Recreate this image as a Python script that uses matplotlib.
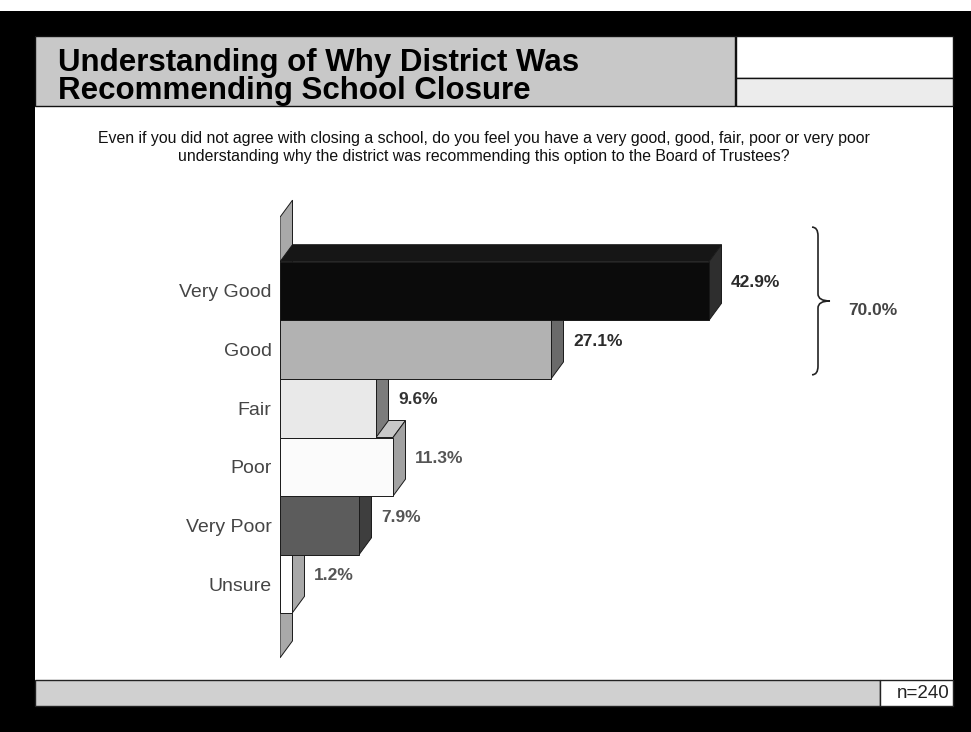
import numpy as np
import matplotlib.pyplot as plt
from matplotlib.patches import Rectangle, Polygon, PathPatch
from matplotlib.path import Path

plt.rcParams['font.family'] = ['Liberation Sans', 'DejaVu Sans']

categories = ['Very Good', 'Good', 'Fair', 'Poor', 'Very Poor', 'Unsure']
percents = [42.9, 27.1, 9.6, 11.3, 7.9, 1.2]
face_colors = ['#0b0b0b', '#b2b2b2', '#e9e9e9', '#fbfbfb', '#5c5c5c', '#ffffff']
side_colors = ['#2e2e2e', '#6a6a6a', '#7c7c7c', '#a2a2a2', '#3e3e3e', '#a8a8a8']
top_colors = ['#161616', '#8e8e8e', '#b0b0b0', '#c8c8c8', '#4a4a4a', '#cfcfcf']
label_colors = ['#2b2b2b', '#2b2b2b', '#333333', '#555555', '#555555', '#555555']

title_lines = ['Understanding of Why District Was', 'Recommending School Closure']
question_lines = ['Even if you did not agree with closing a school, do you feel you have a very good, good, fair, poor or very poor',
                  'understanding why the district was recommending this option to the Board of Trustees?']
sample_note = 'n=240'

W, H = 971, 732
fig = plt.figure(figsize=(W / 100, H / 100), dpi=100, facecolor='black')


def px_rect(x0, y0, x1, y1, **kw):
    # rectangle given in image pixels (y down)
    fig.patches.append(Rectangle((x0 / W, 1 - y1 / H), (x1 - x0) / W, (y1 - y0) / H,
                                 transform=fig.transFigure, zorder=0, **kw))


# slide frame
px_rect(0, 0, W, 11, facecolor='white', edgecolor='none')
px_rect(35, 36, 953, 706, facecolor='white', edgecolor='none')
px_rect(35, 36, 735, 106, facecolor='#c8c8c8', edgecolor='#111111', lw=1)
px_rect(736, 36, 953, 78, facecolor='white', edgecolor='#111111', lw=1)
px_rect(736, 78, 953, 106, facecolor='#ececec', edgecolor='#111111', lw=1)
px_rect(35, 680, 880, 706, facecolor='#d0d0d0', edgecolor='#222222', lw=1)
px_rect(880, 680, 953, 706, facecolor='white', edgecolor='#222222', lw=1)

fig.text(58 / W, 1 - 71 / H, title_lines[0], fontsize=22.5, fontweight='bold', va='baseline')
fig.text(58 / W, 1 - 99 / H, title_lines[1], fontsize=22.5, fontweight='bold', va='baseline')
fig.text(484 / W, 1 - 139 / H, question_lines[0], fontsize=11.4, ha='center', va='center', color='#111111')
fig.text(484 / W, 1 - 156 / H, question_lines[1], fontsize=11.4, ha='center', va='center', color='#111111')
fig.text(950 / W, 1 - 693 / H, sample_note, fontsize=13.5, ha='right', va='center', color='#222222')

# chart
ax = fig.add_axes([280 / W, 1 - 665 / H, (955 - 280) / W, (665 - 195) / H])
ax.set_zorder(2)
ax.set_xlim(0, 67.5)
ax.set_ylim(6.382, -1.638)
ax.patch.set_visible(False)
for s in ax.spines.values():
    s.set_visible(False)
ax.set_xticks([])
ax.set_yticks(range(len(categories)), categories, fontsize=14, color='#454545')
ax.tick_params(axis='y', length=0, pad=6)

DX, DY = 1.25, 0.29  # 3d depth in data units
edge = '#1a1a1a'

# back wall
wall_top, wall_bot = -1.26, 6.26
ax.add_patch(Polygon([(0, wall_top), (0, wall_bot), (DX, wall_bot - DY), (DX, wall_top - DY)],
                     closed=True, facecolor='#a9a9a9', edgecolor=edge, lw=0.7, zorder=1))

n = len(percents)
for i in reversed(range(n)):
    v = percents[i]
    top, bot = i - 0.5, i + 0.5
    z = 10 - i
    ax.add_patch(Polygon([(0, top), (v, top), (v + DX, top - DY), (DX, top - DY)], closed=True,
                         facecolor=top_colors[i], edgecolor=edge, lw=0.7, zorder=z))
    ax.add_patch(Polygon([(v, top), (v, bot), (v + DX, bot - DY), (v + DX, top - DY)], closed=True,
                         facecolor=side_colors[i], edgecolor=edge, lw=0.7, zorder=z))
    ax.barh(i, v, height=1.0, left=0, color=face_colors[i], edgecolor=edge, lw=0.7, zorder=z + 0.5)
    ax.annotate(f'{v:.1f}%', xy=(v, i), xytext=(16, 6), textcoords='offset points',
                ha='left', va='center', fontsize=12.5, fontweight='bold', color=label_colors[i])

# brace around the top two answers
b_top, b_bot = -1.09, 1.43
b_mid = (b_top + b_bot) / 2
x0, xm, x1 = 53.2, 53.8, 55.0
verts = [(x0, b_top), (xm, b_top), (xm, b_top + 0.15), (xm, b_mid - 0.12),
         (xm, b_mid), (x1, b_mid), (xm, b_mid), (xm, b_mid + 0.12),
         (xm, b_bot - 0.15), (xm, b_bot), (x0, b_bot)]
codes = [Path.MOVETO, Path.CURVE3, Path.CURVE3, Path.LINETO, Path.CURVE3, Path.CURVE3,
         Path.CURVE3, Path.CURVE3, Path.LINETO, Path.CURVE3, Path.CURVE3]
ax.add_patch(PathPatch(Path(verts, codes), facecolor='none', edgecolor='#222222', lw=1.2, zorder=5))
ax.annotate(f'{sum(percents[:2]):.1f}%', xy=(x1, b_mid), xytext=(13, -7), textcoords='offset points',
            ha='left', va='center', fontsize=12.5, fontweight='bold', color='#444444')

fig.savefig('out.png', dpi=100, facecolor=fig.get_facecolor())
